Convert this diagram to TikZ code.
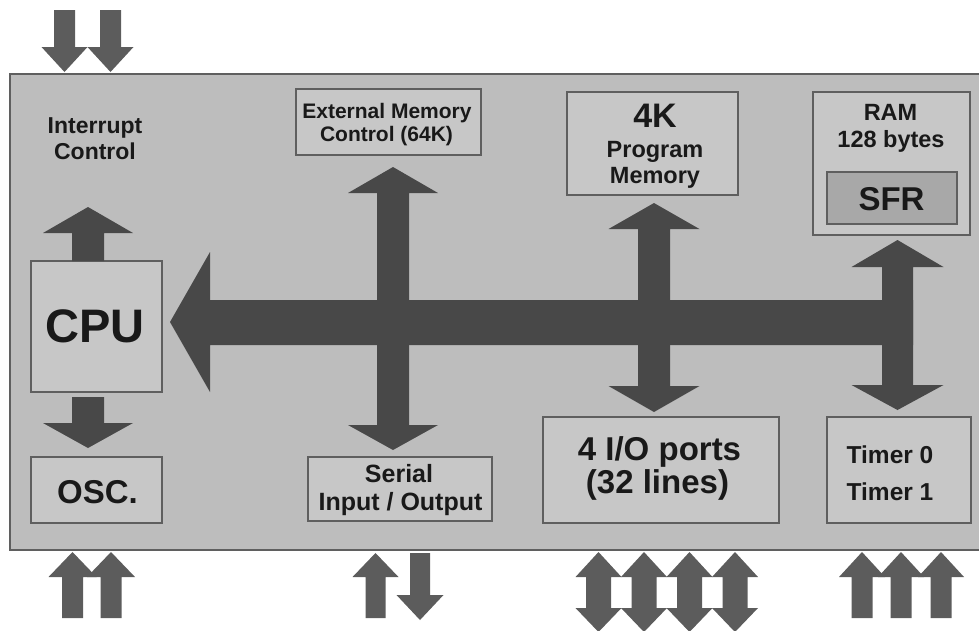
\documentclass[tikz,border=0pt]{standalone}
\usepackage{fontspec}
\setmainfont{Liberation Sans}
\definecolor{bgc}{RGB}{189,189,189}
\definecolor{boxc}{RGB}{199,199,199}
\definecolor{sfrc}{RGB}{168,168,168}
\definecolor{linec}{RGB}{95,95,95}
\definecolor{inarr}{RGB}{72,72,72}
\definecolor{outarr}{RGB}{92,92,92}
\definecolor{txtc}{RGB}{25,25,25}
\newcommand\fsz[1]{\fontsize{#1}{#1}\selectfont\bfseries}
% up arrow: color, x, ytip, ybottom, shaft w, head w, head len
\newcommand\uarr[7]{\fill[#1] (#2-#5/2,#4) -- (#2-#5/2,#3+#7) -- (#2-#6/2,#3+#7) -- (#2,#3) -- (#2+#6/2,#3+#7) -- (#2+#5/2,#3+#7) -- (#2+#5/2,#4) -- cycle;}
% down arrow: color, x, ytop, ytip, shaft w, head w, head len
\newcommand\darr[7]{\fill[#1] (#2-#5/2,#3) -- (#2-#5/2,#4-#7) -- (#2-#6/2,#4-#7) -- (#2,#4) -- (#2+#6/2,#4-#7) -- (#2+#5/2,#4-#7) -- (#2+#5/2,#3) -- cycle;}
% double vertical arrow: color, x, ytoptip, ybottip, shaft w, head w, head len top, head len bottom
\newcommand\vdarr[8]{\fill[#1] (#2,#3) -- (#2+#6/2,#3+#7) -- (#2+#5/2,#3+#7) -- (#2+#5/2,#4-#8) -- (#2+#6/2,#4-#8) -- (#2,#4) -- (#2-#6/2,#4-#8) -- (#2-#5/2,#4-#8) -- (#2-#5/2,#3+#7) -- (#2-#6/2,#3+#7) -- cycle;}
\begin{document}
\begin{tikzpicture}[x=1pt,y=-1pt,
  box/.style={draw=linec, line width=1.3pt, fill=boxc, inner sep=0pt},
  txt/.style={anchor=base, inner sep=0pt, text=txtc}]
\useasboundingbox (0,0) rectangle (979,630);
% chip body
\draw[draw=linec, line width=1.5pt, fill=bgc] (10,74) rectangle (995,550);
% blocks
\node[box, minimum width=131, minimum height=131] (cpu) at (96.5,326.5) {};
\node[box, minimum width=131, minimum height=66] (osc) at (96.5,490) {};
\node[box, minimum width=185, minimum height=66] (ext) at (388.5,122) {};
\node[box, minimum width=171, minimum height=103] (prog) at (652.5,143.5) {};
\node[box, minimum width=157, minimum height=143] (ram) at (891.5,163.5) {};
\node[draw=linec, line width=1.3pt, fill=sfrc, inner sep=0pt, minimum width=130, minimum height=52] (sfr) at (892,198) {};
\node[box, minimum width=184, minimum height=64] (ser) at (400,489) {};
\node[box, minimum width=236, minimum height=106] (io) at (661,470) {};
\node[box, minimum width=144, minimum height=106] (tim) at (899,470) {};
% internal bus
\fill[inarr] (170,322) -- (210,252) -- (210,300) -- (913,300) -- (913,345) -- (210,345) -- (210,392) -- cycle;
\vdarr{inarr}{393}{167}{450}{32}{90}{26}{25}
\vdarr{inarr}{654}{203}{412}{32}{91}{26}{26}
\vdarr{inarr}{897.5}{240}{410}{31}{92}{27}{25}
% CPU arrows
\uarr{inarr}{88}{207}{261}{32}{90}{26}
\darr{inarr}{88}{397}{448}{32}{90}{25}
% outside arrows
\darr{outarr}{64.5}{10}{72}{21}{46}{25}
\darr{outarr}{110.5}{10}{72}{21}{46}{25}
\uarr{outarr}{72.5}{552}{618}{21}{48}{25}
\uarr{outarr}{111}{552}{618}{21}{48}{25}
\uarr{outarr}{375.5}{553}{618}{20}{46}{24}
\darr{outarr}{420}{553}{620}{20}{47}{25}
\vdarr{outarr}{598.5}{552}{632}{25}{46}{25}{24}
\vdarr{outarr}{644}{552}{632}{25}{46}{25}{24}
\vdarr{outarr}{689.5}{552}{632}{25}{46}{25}{24}
\vdarr{outarr}{735}{552}{632}{25}{46}{25}{24}
\uarr{outarr}{862}{552}{618}{21}{46}{25}
\uarr{outarr}{901}{552}{618}{21}{46}{25}
\uarr{outarr}{941}{552}{618}{21}{46}{25}
% texts
\node[txt, font=\fsz{23}] (t1) at (95,133) {Interrupt};
\node[txt, font=\fsz{23}] (t2) at (95,159) {Control};
\node[txt, font=\fsz{21}] (t3) at (387,118) {External Memory};
\node[txt, font=\fsz{21}] (t4) at (386.5,141) {Control (64K)};
\node[txt, font=\fsz{34}] (t5) at (655,127) {4K};
\node[txt, font=\fsz{23.5}] (t6) at (655,157) {Program};
\node[txt, font=\fsz{23.5}] (t7) at (655,183) {Memory};
\node[txt, font=\fsz{23.5}] (t8) at (890.5,120) {RAM};
\node[txt, font=\fsz{23.5}] (t9) at (891,147) {128 bytes};
\node[txt, font=\fsz{33}] (t10) at (891.5,210) {SFR};
\node[txt, font=\fsz{47}] (t11) at (95,342) {CPU};
\node[txt, font=\fsz{33}] (t12) at (97.5,503) {OSC.};
\node[txt, font=\fsz{25}] (t13) at (399,482) {Serial};
\node[txt, font=\fsz{25}] (t14) at (400.5,510) {Input / Output};
\node[txt, font=\fsz{33}] (t15) at (659.5,460) {4 I/O ports};
\node[txt, font=\fsz{33}] (t16) at (657.5,493) {(32 lines)};
\node[txt, font=\fsz{24.5}] (t17) at (890,463) {Timer 0};
\node[txt, font=\fsz{24.5}] (t18) at (890,500) {Timer 1};
\end{tikzpicture}
\end{document}
